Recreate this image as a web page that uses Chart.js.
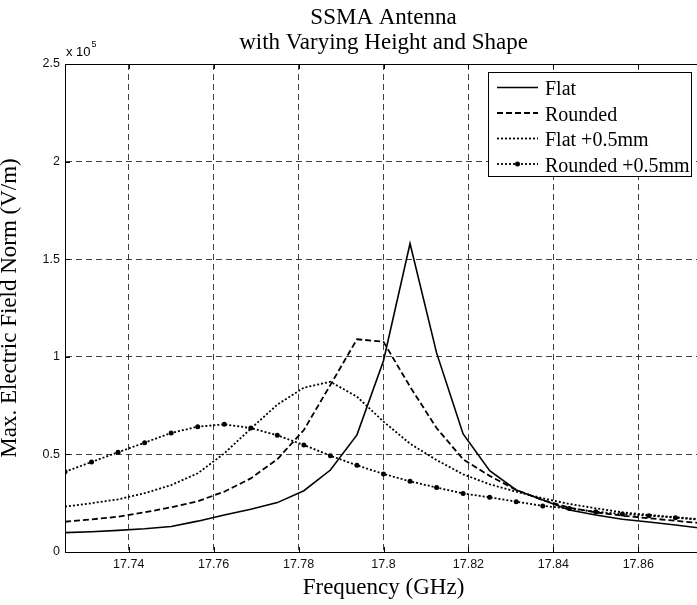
<!DOCTYPE html>
<html>
<head>
<meta charset="utf-8">
<title>SSMA Antenna</title>
<script src="https://cdn.jsdelivr.net/npm/chart.js@4.4.1/dist/chart.umd.min.js"></script>
<style>
  html, body { margin: 0; padding: 0; background: #fff; overflow: hidden; }
  #wrap { width: 706px; height: 605px; }
</style>
</head>
<body>
<div id="wrap"><canvas id="fieldChart"></canvas></div>
<script>
// frequency sweep (GHz)
const freqGHz = [17.725, 17.73125, 17.7375, 17.74375, 17.75, 17.75625, 17.7625, 17.76875,
  17.775, 17.78125, 17.7875, 17.79375, 17.8, 17.80625, 17.8125, 17.81875, 17.825,
  17.83125, 17.8375, 17.84375, 17.85, 17.85625, 17.8625, 17.86875, 17.875];

// max electric field norm (V/m)
const flat = [9900, 10400, 11100, 11900, 13100, 15800, 19000, 21900, 25300, 31400, 42000,
  60000, 98000, 158000, 102000, 60500, 41700, 31800, 26600, 21500, 19000, 16800, 15400, 13800, 12200];
const rounded = [15500, 16700, 18100, 20300, 22900, 26000, 30900, 37700, 47500, 62500, 85600,
  109000, 107700, 84700, 63500, 47500, 39000, 31800, 26600, 22700, 20300, 18600, 17300, 16000, 14700];
const flatPlus = [23200, 25000, 27000, 30100, 34300, 40300, 50500, 63200, 75500, 84200, 87200,
  79600, 66800, 55500, 47100, 39800, 34700, 30900, 27500, 24600, 22400, 20300, 19000, 17800, 16700];
const roundedPlus = [41100, 46100, 51100, 56000, 61000, 64200, 65400, 63500, 59800, 54800, 49300,
  44400, 40000, 36200, 33000, 30000, 28000, 25800, 23600, 22300, 20600, 19500, 18600, 17600, 16400];

const xTicks = [17.74, 17.76, 17.78, 17.8, 17.82, 17.84, 17.86];
const yTicks = [0, 50000, 100000, 150000, 200000, 250000];

const serif = '"Liberation Serif", "Times New Roman", serif';
const sans = '"Liberation Sans", Arial, sans-serif';

function series(values) {
  return values.map((v, i) => ({ x: freqGHz[i], y: v }));
}

// box, inward tick marks and the exponent note, MATLAB style
const frameTicks = {
  id: 'frameTicks',
  afterDraw(chart) {
    const { ctx, chartArea: a, scales: { x, y } } = chart;
    ctx.save();
    ctx.strokeStyle = '#000';
    ctx.lineWidth = 1;
    ctx.beginPath();
    ctx.moveTo(a.left, a.top + 0.5);
    ctx.lineTo(a.right, a.top + 0.5);
    ctx.stroke();
    ctx.beginPath();
    xTicks.forEach(v => {
      const px = Math.round(x.getPixelForValue(v)) + 0.5;
      ctx.moveTo(px, a.bottom); ctx.lineTo(px, a.bottom - 5);
      ctx.moveTo(px, a.top); ctx.lineTo(px, a.top + 5);
    });
    yTicks.forEach(v => {
      const py = Math.round(y.getPixelForValue(v)) + 0.5;
      ctx.moveTo(a.left, py); ctx.lineTo(a.left + 5, py);
    });
    ctx.stroke();

    ctx.fillStyle = '#000';
    ctx.textBaseline = 'alphabetic';
    ctx.font = '13px ' + sans;
    ctx.fillText('x 10', a.left + 1, a.top - 8);
    const w = ctx.measureText('x 10').width;
    ctx.font = '9px ' + sans;
    ctx.fillText('5', a.left + 2 + w, a.top - 17);
    ctx.restore();
  }
};

// legend box in the upper right corner of the plot
const boxLegend = {
  id: 'boxLegend',
  afterDraw(chart) {
    const { ctx } = chart;
    const left = 488.5, top = 72.5, width = 203, height = 104;
    ctx.save();
    ctx.fillStyle = '#fff';
    ctx.fillRect(left, top, width, height);
    ctx.strokeStyle = '#000';
    ctx.lineWidth = 1;
    ctx.strokeRect(left, top, width, height);
    ctx.font = '20px ' + serif;
    ctx.textBaseline = 'alphabetic';
    chart.data.datasets.forEach((ds, i) => {
      const cy = 87.5 + i * 25.5;
      ctx.strokeStyle = '#000';
      ctx.lineWidth = ds.borderWidth;
      ctx.setLineDash(ds.borderDash || []);
      ctx.beginPath();
      ctx.moveTo(497, cy);
      ctx.lineTo(538, cy);
      ctx.stroke();
      ctx.setLineDash([]);
      if (ds.pointRadius) {
        ctx.beginPath();
        ctx.arc(517.5, cy, ds.pointRadius, 0, Math.PI * 2);
        ctx.fillStyle = '#000';
        ctx.fill();
      }
      ctx.fillStyle = '#000';
      ctx.fillText(ds.label, 545, cy + 7.5);
    });
    ctx.restore();
  }
};

const ctx = document.getElementById('fieldChart').getContext('2d');

new Chart(ctx, {
  type: 'line',
  data: {
    datasets: [
      { label: 'Flat', data: series(flat), borderColor: '#000', borderWidth: 1.6, pointRadius: 0 },
      { label: 'Rounded', data: series(rounded), borderColor: '#000', borderWidth: 1.8, borderDash: [6, 3], pointRadius: 0 },
      { label: 'Flat +0.5mm', data: series(flatPlus), borderColor: '#000', borderWidth: 1.8, borderDash: [2, 2], pointRadius: 0 },
      { label: 'Rounded +0.5mm', data: series(roundedPlus), borderColor: '#000', borderWidth: 1.8, borderDash: [2, 2],
        pointRadius: 2.5, pointBackgroundColor: '#000', pointBorderWidth: 0 }
    ]
  },
  options: {
    responsive: true,
    maintainAspectRatio: false,
    animation: false,
    layout: { padding: { left: 0, right: 3, top: 0, bottom: 0 } },
    elements: { line: { tension: 0, borderCapStyle: 'butt' } },
    plugins: {
      legend: { display: false },
      tooltip: { enabled: false },
      title: {
        display: true,
        fullSize: false,
        text: ['SSMA Antenna', 'with Varying Height and Shape'],
        color: '#000',
        font: { family: serif, size: 23, weight: 'normal', lineHeight: '25px' },
        padding: { top: 5, bottom: 9 }
      }
    },
    scales: {
      x: {
        type: 'linear',
        min: 17.725,
        max: 17.875,
        afterBuildTicks: s => { s.ticks = xTicks.map(v => ({ value: v })); },
        afterFit: s => { s.height = 53; },
        ticks: {
          color: '#111',
          padding: 5,
          maxRotation: 0,
          font: { family: sans, size: 12.5 },
          callback: v => String(v)
        },
        grid: { color: 'rgba(0,0,0,0.75)', lineWidth: 1, drawTicks: false },
        border: { display: true, color: '#000', width: 1, dash: [6, 4] },
        title: {
          display: true,
          text: 'Frequency (GHz)',
          color: '#000',
          font: { family: serif, size: 23, lineHeight: 1.2 },
          padding: { top: 0, bottom: 3 }
        }
      },
      y: {
        min: 0,
        max: 250000,
        afterBuildTicks: s => { s.ticks = yTicks.map(v => ({ value: v })); },
        afterFit: s => { s.width = 65; },
        ticks: {
          color: '#111',
          padding: 5,
          font: { family: sans, size: 12.5 },
          callback: v => String(v / 100000)
        },
        grid: { color: 'rgba(0,0,0,0.75)', lineWidth: 1, drawTicks: false },
        border: { display: true, color: '#000', width: 1, dash: [6, 4] },
        title: {
          display: true,
          text: 'Max. Electric Field Norm (V/m)',
          color: '#000',
          font: { family: serif, size: 23, lineHeight: '20px' },
          padding: { top: 0, bottom: 0 }
        }
      }
    }
  },
  plugins: [frameTicks, boxLegend]
});
</script>
</body>
</html>
